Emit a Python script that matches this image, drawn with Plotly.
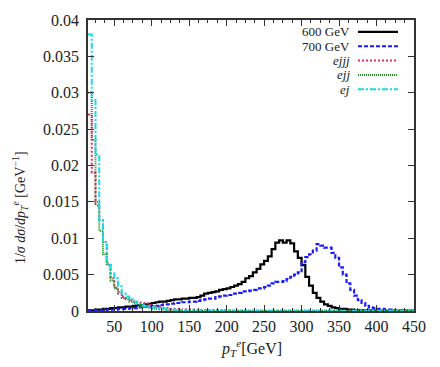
import numpy as np
import plotly.graph_objects as go

# ---------------- data ----------------
bin_width = 5
bin_lo = list(range(15, 450, 5))  # 87 bins, 15..450 GeV

sig600 = [0.0001, 0.0001, 0.0002, 0.0002, 0.0003, 0.0003, 0.0004, 0.0004, 0.0005, 0.0005,
          0.0006, 0.0006, 0.0007, 0.0008, 0.0008, 0.0009, 0.0010, 0.0011, 0.0012, 0.0013,
          0.0013, 0.0014, 0.0015, 0.0016, 0.0016, 0.0017, 0.0017, 0.0018, 0.0018, 0.0019,
          0.0021, 0.0024, 0.0025, 0.0026, 0.0027, 0.0029, 0.0030, 0.0031, 0.0033, 0.0035,
          0.0037, 0.0040, 0.0045, 0.0048, 0.0053, 0.0058, 0.0064, 0.0069, 0.0075, 0.0085,
          0.0094, 0.0097, 0.0094, 0.0097, 0.0093, 0.0082, 0.0073, 0.0063, 0.0047, 0.0035,
          0.0025, 0.0018, 0.0013, 0.0009, 0.0007, 0.0005, 0.0004, 0.0003, 0.0003, 0.0002,
          0.0002, 0.0001, 0.0001, 0.0001, 0.0001, 0.00005, 0.00005, 0.00005, 0.00003, 0.00003,
          0.00002, 0.00002, 0.00001, 0.00001, 0.00001, 0.00001, 0.00001]

sig700 = [0.00005, 0.00005, 0.0001, 0.0001, 0.0001, 0.0002, 0.0002, 0.0002, 0.0003, 0.0003,
          0.0003, 0.0004, 0.0004, 0.0005, 0.0005, 0.0006, 0.0006, 0.0007, 0.0007, 0.0008,
          0.0009, 0.0009, 0.0010, 0.0011, 0.0011, 0.0012, 0.0012, 0.0013, 0.0013, 0.0014,
          0.0015, 0.0016, 0.0017, 0.0017, 0.0019, 0.0020, 0.0021, 0.0022, 0.0022, 0.0024,
          0.0025, 0.0027, 0.0027, 0.0028, 0.0029, 0.0031, 0.0031, 0.0033, 0.0035, 0.0038,
          0.0040, 0.0040, 0.0041, 0.0044, 0.0047, 0.0050, 0.0053, 0.0067, 0.0074, 0.0078,
          0.0083, 0.0092, 0.0090, 0.0087, 0.0087, 0.0080, 0.0073, 0.0060, 0.0050, 0.0038,
          0.0029, 0.0021, 0.0015, 0.0011, 0.0007, 0.0005, 0.0004, 0.0003, 0.0003, 0.0002,
          0.0002, 0.0001, 0.0001, 0.0001, 0.00005, 0.00005, 0.00005]

ejjj = [0.027, 0.019, 0.0145, 0.0125, 0.0095, 0.0065, 0.0045, 0.0032, 0.0024, 0.0020,
        0.0018, 0.0015, 0.0013, 0.0012, 0.0011, 0.0010, 0.0008, 0.0007, 0.0006, 0.0005,
        0.0004, 0.0004, 0.0003, 0.0003, 0.0003, 0.0002, 0.0002, 0.0002, 0.0002, 0.0001,
        0.0001, 0.0001, 0.0001, 0.0001, 0.0001, 0.0001, 0.0001, 0.0001, 0.00004, 0.00004,
        0.00004, 0.00003, 0.00003, 0.00003, 0.00003, 0.00003, 0.00003, 0.00003, 0.00003, 0.00003,
        0.00003, 0.00003, 0.00003, 0.00003, 0.00003, 0.00003, 0.00003, 0.00003, 0.00003, 0.00003,
        0.00003, 0.00003, 0.00003, 0.00003, 0.00003, 0.00003, 0.00003, 0.00003, 0.00003, 0.00003,
        0.00003, 0.00003, 0.00003, 0.00003, 0.00003, 0.00003, 0.00003, 0.00003, 0.00003, 0.00003,
        0.00003, 0.00003, 0.00003, 0.00003, 0.00003, 0.00003, 0.00003]

ejj = [0.030, 0.0235, 0.0150, 0.0110, 0.0078, 0.0063, 0.0042, 0.0031, 0.0026, 0.0018,
       0.0016, 0.0013, 0.0011, 0.0008, 0.0006, 0.0005, 0.0004, 0.0003, 0.0003, 0.0002,
       0.0002, 0.0001, 0.0001, 0.00005, 0.00005, 0.00004, 0.00004, 0.00004, 0.00003, 0.00003,
       0.00003, 0.00003, 0.00003, 0.00003, 0.00003, 0.00003, 0.00003, 0.00003, 0.00003, 0.00003,
       0.00003, 0.00003, 0.00003, 0.00003, 0.00003, 0.00003, 0.00003, 0.00003, 0.00003, 0.00003,
       0.00003, 0.00003, 0.00003, 0.00003, 0.00003, 0.00003, 0.00003, 0.00003, 0.00003, 0.00003,
       0.00003, 0.00003, 0.00003, 0.00003, 0.00003, 0.00003, 0.00003, 0.00003, 0.00003, 0.00003,
       0.00003, 0.00003, 0.00003, 0.00003, 0.00003, 0.00003, 0.00003, 0.00003, 0.00003, 0.00003,
       0.00003, 0.00003, 0.00003, 0.00003, 0.00003, 0.00003, 0.00003]

ej = [0.038, 0.029, 0.0215, 0.0125, 0.0095, 0.0065, 0.0052, 0.0045, 0.0034, 0.0024,
      0.0020, 0.0016, 0.0013, 0.0010, 0.0008, 0.0007, 0.0006, 0.0005, 0.0004, 0.0003,
      0.0003, 0.0002, 0.0002, 0.0001, 0.0001, 0.00006, 0.00005, 0.00005, 0.00004, 0.00004,
      0.00004, 0.00004, 0.00004, 0.00004, 0.00004, 0.00004, 0.00004, 0.00004, 0.00004, 0.00004,
      0.00004, 0.00004, 0.00004, 0.00004, 0.00004, 0.00004, 0.00004, 0.00004, 0.00004, 0.00004,
      0.00004, 0.00004, 0.00004, 0.00004, 0.00004, 0.00004, 0.00004, 0.00004, 0.00004, 0.00004,
      0.00004, 0.00004, 0.00004, 0.00004, 0.00004, 0.00004, 0.00004, 0.00004, 0.00004, 0.00004,
      0.00004, 0.00004, 0.00004, 0.00004, 0.00004, 0.00004, 0.00004, 0.00004, 0.00004, 0.00004,
      0.00004, 0.00004, 0.00004, 0.00004, 0.00004, 0.00004, 0.00004]

series_names = ["600 GeV", "700 GeV", "<i>ejjj</i>", "<i>ejj</i>", "<i>ej</i>"]
x_tickvals = [50, 100, 150, 200, 250, 300, 350, 400, 450]
y_tickvals = [0, 0.005, 0.01, 0.015, 0.02, 0.025, 0.03, 0.035, 0.04]
y_ticktext = ["0", "0.005", "0.01", "0.015", "0.02", "0.025", "0.03", "0.035", "0.04"]

# ---------------- styles ----------------
styles = [
    dict(color="#000000", width=2.2, dash="solid"),
    dict(color="#1a1aff", width=2.2, dash="4px,2px"),
    dict(color="#e0305a", width=2.0, dash="2px,2px"),
    dict(color="#238b23", width=2.0, dash="1px,1px"),
    dict(color="#18dbe8", width=2.0, dash="6px,2px,2px,2px"),
]
FONT = "Liberation Serif, Times New Roman, serif"

fig = go.Figure()
all_series = [sig600, sig700, ejjj, ejj, ej]
edges_x = bin_lo + [bin_lo[-1] + bin_width]
for name, vals, st in zip(series_names, all_series, styles):
    fig.add_trace(go.Scatter(
        x=edges_x, y=list(vals) + [vals[-1]], mode="lines", line_shape="hv",
        name=name, line=st, showlegend=False, hoverinfo="skip"))

# custom legend (text right, line sample to the right), in paper coords
L, R, T, B = 88, 414, 17, 311
W_px, H_px = R - L, B - T
def px2paper_x(px):
    return (px - L) / W_px
def px2paper_y(py):
    return (B - py) / H_px

row_y = [29, 43.5, 58, 72.5, 87]
for name, st, ry in zip(series_names, styles, row_y):
    fig.add_annotation(x=px2paper_x(351), y=px2paper_y(ry), xref="paper", yref="paper",
                       text=name, showarrow=False, xanchor="right", yanchor="middle",
                       borderpad=0,
                       font=dict(family=FONT, size=13, color="#222"))
    fig.add_shape(type="line", xref="paper", yref="paper",
                  x0=px2paper_x(358), x1=px2paper_x(398),
                  y0=px2paper_y(ry), y1=px2paper_y(ry),
                  line=dict(color=st["color"], width=st["width"], dash=st["dash"]))

# axis titles
fig.add_annotation(x=0.5, y=px2paper_y(348), xref="paper", yref="paper",
                   text="<i>p</i><sub><i>T</i></sub><sup><i>e</i></sup>[GeV]", showarrow=False,
                   xanchor="center", yanchor="middle",
                   font=dict(family=FONT, size=16, color="#222"))
fig.add_annotation(x=px2paper_x(20), y=px2paper_y(207), xref="paper", yref="paper",
                   text="1/<i>σ</i> <i>dσ</i>/<i>dp</i><sub><i>T</i></sub><sup><i>e</i></sup> [GeV<sup>−1</sup>]",
                   showarrow=False, textangle=-90, xanchor="center", yanchor="middle",
                   font=dict(family=FONT, size=14, color="#222"))

axis_common = dict(showline=True, linecolor="#333", linewidth=1.5, mirror="allticks",
                   ticks="inside", ticklen=6, tickcolor="#333", tickwidth=1,
                   showgrid=False, zeroline=False,
                   tickfont=dict(family=FONT, size=16, color="#222"))

fig.update_xaxes(range=[15, 450], tickvals=x_tickvals,
                 minor=dict(ticks="inside", dtick=12.5, tick0=0, ticklen=3,
                            tickcolor="#333", tickwidth=1, showgrid=False),
                 **axis_common)
fig.update_yaxes(range=[0, 0.04], tickvals=y_tickvals, ticktext=y_ticktext,
                 ticklabelstandoff=4, **axis_common)

fig.update_layout(width=440, height=367, plot_bgcolor="white", paper_bgcolor="white",
                  margin=dict(l=L, r=440 - R, t=T, b=367 - B), showlegend=False,
                  font=dict(family=FONT))

fig.write_html("out.html", config={"displayModeBar": False},
               post_script="document.body.style.margin='0';document.body.style.overflow='hidden';")
